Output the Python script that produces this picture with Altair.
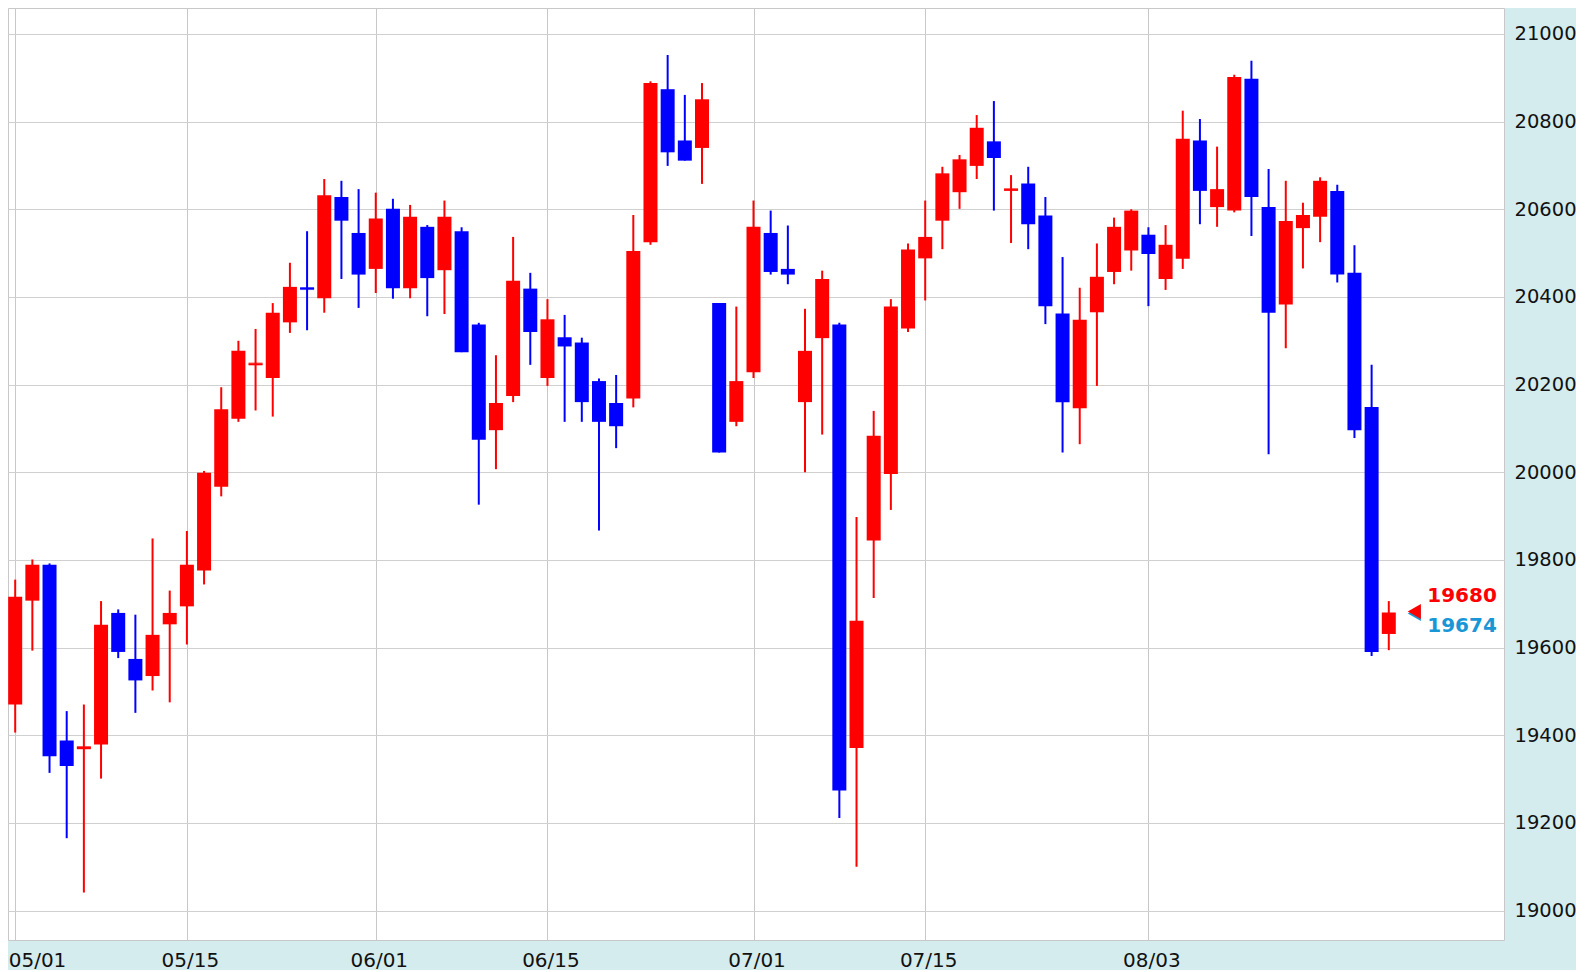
import altair as alt
import pandas as pd

# Trading days (weekdays), 2015-05-01 .. 2015-08-21
dates = [
    "05/01", "05/04", "05/05", "05/06", "05/07", "05/08",
    "05/11", "05/12", "05/13", "05/14", "05/15",
    "05/18", "05/19", "05/20", "05/21", "05/22",
    "05/25", "05/26", "05/27", "05/28", "05/29",
    "06/01", "06/02", "06/03", "06/04", "06/05",
    "06/08", "06/09", "06/10", "06/11", "06/12",
    "06/15", "06/16", "06/17", "06/18", "06/19",
    "06/22", "06/23", "06/24", "06/25", "06/26",
    "06/29", "06/30",
    "07/01", "07/02", "07/03",
    "07/06", "07/07", "07/08", "07/09", "07/10",
    "07/13", "07/14", "07/15", "07/16", "07/17",
    "07/20", "07/21", "07/22", "07/23", "07/24",
    "07/27", "07/28", "07/29", "07/30", "07/31",
    "08/03", "08/04", "08/05", "08/06", "08/07",
    "08/10", "08/11", "08/12", "08/13", "08/14",
    "08/17", "08/18", "08/19", "08/20", "08/21",
]

opens = [
    19470, 19707, 19789, 19388, 19368, 19379, 19679, 19574, 19535, 19653,
    19694, 19776, 19967, 20122, 20244, 20215, 20342, 20422, 20397, 20628,
    20546, 20464, 20601, 20420, 20560, 20461, 20550, 20337, 20096, 20174,
    20419, 20215, 20308, 20296, 20208, 20158, 20168, 20525, 20874, 20757,
    20740, 20386, 20115, 20228, 20546, 20464, 20160, 20306, 20337, 19371,
    19844, 19996, 20328, 20488, 20574, 20639, 20699, 20755, 20642, 20659,
    20586, 20362, 20146, 20365, 20457, 20506, 20542, 20441, 20487, 20757,
    20605, 20597, 20898, 20605, 20383, 20557, 20583, 20642, 20455, 20149,
    19631,
]
highs = [
    19755, 19801, 19792, 19455, 19470, 19706, 19687, 19675, 19849, 19730,
    19866, 20003, 20194, 20300, 20327, 20386, 20478, 20550, 20669, 20665,
    20646, 20638, 20624, 20610, 20564, 20620, 20559, 20341, 20267, 20537,
    20455, 20395, 20359, 20307, 20214, 20222, 20587, 20892, 20952, 20861,
    20888, 20386, 20378, 20620, 20597, 20563, 20373, 20460, 20341, 19898,
    20140, 20395, 20522, 20620, 20697, 20724, 20815, 20847, 20678, 20697,
    20628, 20491, 20421, 20522, 20581, 20600, 20559, 20564, 20825, 20806,
    20743, 20907, 20939, 20692, 20665, 20615, 20673, 20656, 20518, 20245,
    19706,
]
lows = [
    19406, 19593, 19314, 19165, 19041, 19301, 19576, 19451, 19502, 19475,
    19607, 19744, 19945, 20115, 20141, 20127, 20318, 20324, 20364, 20441,
    20375, 20409, 20396, 20397, 20356, 20361, 20274, 19926, 20007, 20160,
    20245, 20197, 20115, 20115, 19867, 20055, 20148, 20519, 20699, 20711,
    20658, 20045, 20105, 20215, 20451, 20429, 20000, 20086, 19211, 19100,
    19713, 19914, 20320, 20392, 20509, 20601, 20669, 20597, 20523, 20509,
    20338, 20045, 20064, 20197, 20429, 20460, 20379, 20416, 20464, 20566,
    20560, 20593, 20539, 20041, 20283, 20465, 20525, 20433, 20078, 19581,
    19594,
]
closes = [
    19716, 19789, 19352, 19330, 19373, 19652, 19590, 19525, 19629, 19679,
    19789, 19999, 20144, 20277, 20248, 20364, 20423, 20418, 20632, 20574,
    20451, 20579, 20420, 20583, 20443, 20583, 20274, 20074, 20158, 20437,
    20320, 20349, 20287, 20160, 20115, 20105, 20505, 20888, 20730, 20711,
    20851, 20045, 20208, 20560, 20457, 20451, 20277, 20441, 19274, 19661,
    20083, 20378, 20508, 20537, 20682, 20714, 20786, 20717, 20646, 20566,
    20379, 20160, 20348, 20446, 20560, 20597, 20498, 20519, 20761, 20642,
    20646, 20902, 20628, 20364, 20573, 20587, 20665, 20451, 20096, 19590,
    19680,
]

tick_dates = ["05/01", "05/15", "06/01", "06/15", "07/01", "07/15", "08/03"]
y_ticks = [19000, 19200, 19400, 19600, 19800, 20000, 20200, 20400, 20600, 20800, 21000]
quote_prices = [19680, 19674]
quote_colors = ["#ff0000", "#1996d6"]

df = pd.DataFrame({
    "i": list(range(len(dates))),
    "date": dates,
    "open": opens,
    "high": highs,
    "low": lows,
    "close": closes,
})
df["dir"] = ["up" if c >= o else "down" for o, c in zip(opens, closes)]

last_i = len(dates) - 1
ann = pd.DataFrame({"i": [last_i], "price": [quote_prices[0]]})
q1 = pd.DataFrame({"i": [last_i], "price": [quote_prices[0]]})
q2 = pd.DataFrame({"i": [last_i], "price": [quote_prices[1]]})

tick_idx = [dates.index(d) for d in tick_dates]
label_expr = "[" + ",".join("'%s'" % d for d in dates) + "][datum.value]"

FONT = "Verdana, DejaVu Sans"

x_scale = alt.Scale(domain=[-0.419, 86.71], nice=False, zero=False, padding=0)
x_axis = alt.Axis(
    values=tick_idx, labelExpr=label_expr, grid=True, gridColor="#c8c8c8",
    gridWidth=1, ticks=False, domain=False, title=None,
    labelFontSize=20, labelFont=FONT, labelColor="#111111",
    labelPadding=10, labelFlush=False,
    labelAlign={"condition": {"test": "datum.value == 0", "value": "left"}, "value": "center"},
    labelOffset={"condition": {"test": "datum.value == 0", "value": -7}, "value": 3},
)
y_scale = alt.Scale(domain=[18932.7, 21059.3], nice=False, zero=False, padding=0)
y_axis = alt.Axis(
    orient="right", values=y_ticks, format="d", grid=True, gridColor="#d0d0d0",
    gridWidth=1, ticks=False, domain=False, title=None,
    labelFontSize=19.5, labelFont=FONT, labelColor="#111111", labelPadding=10,
)
X = alt.X("i:Q", scale=x_scale, axis=x_axis)
color = alt.Color(
    "dir:N",
    scale=alt.Scale(domain=["up", "down"], range=["#ff0000", "#0000ff"]),
    legend=None,
)

wick = alt.Chart(df).mark_rule(strokeWidth=2).encode(
    x=X, y=alt.Y("low:Q", scale=y_scale, axis=y_axis), y2="high:Q", color=color
)
body = alt.Chart(df).mark_bar(size=14).encode(
    x=X, y=alt.Y("open:Q", scale=y_scale, axis=y_axis), y2="close:Q", color=color
)
doji = (
    alt.Chart(df)
    .transform_filter("abs(datum.open - datum.close) < 8")
    .mark_tick(orient="horizontal", size=14, thickness=2)
    .encode(x=X, y=alt.Y("close:Q", scale=y_scale, axis=y_axis), color=color)
)

tri_shadow = alt.Chart(ann).mark_point(
    shape="triangle-left", filled=True, size=230, color=quote_colors[1],
    opacity=1, xOffset=25.5, yOffset=1,
).encode(x=X, y=alt.Y("price:Q", scale=y_scale, axis=y_axis))
tri = alt.Chart(ann).mark_point(
    shape="triangle-left", filled=True, size=230, color=quote_colors[0],
    opacity=1, xOffset=25.5, yOffset=-1,
).encode(x=X, y=alt.Y("price:Q", scale=y_scale, axis=y_axis))

txt1 = alt.Chart(q1).mark_text(
    align="left", baseline="middle", font=FONT, fontWeight="bold", fontSize=20,
    color=quote_colors[0], xOffset=38.5, dy=-16,
).encode(x=X, y=alt.Y("price:Q", scale=y_scale, axis=y_axis),
         text=alt.Text("price:Q", format="d"))
txt2 = alt.Chart(q2).mark_text(
    align="left", baseline="middle", font=FONT, fontWeight="bold", fontSize=20,
    color=quote_colors[1], xOffset=38.5, dy=11,
).encode(x=X, y=alt.Y("price:Q", scale=y_scale, axis=y_axis),
         text=alt.Text("price:Q", format="d"))

chart = (
    alt.layer(wick, body, doji, tri_shadow, tri, txt1, txt2)
    .properties(
        width=1496, height=932,
        padding={"left": 0, "top": 0, "right": 72, "bottom": 30},
        autosize=alt.AutoSizeParams(type="none"),
        background="#d4ecee",
    )
    .configure_view(stroke="#c8c8c8", strokeWidth=1, fill="white")
)

chart.save("out.html", embed_options={"renderer": "svg", "actions": False})
